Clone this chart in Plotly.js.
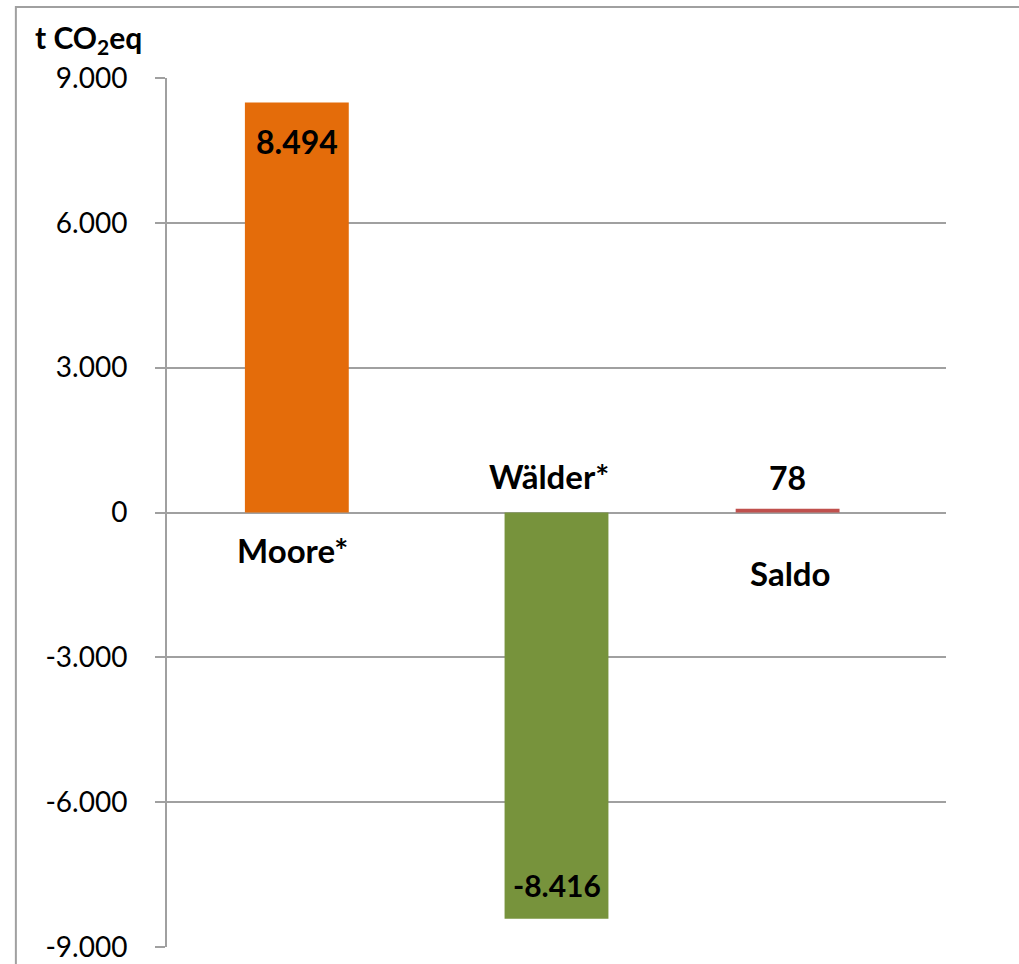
<!DOCTYPE html>
<html>
<head>
<meta charset="utf-8">
<script src="https://cdn.plot.ly/plotly-3.0.1.min.js"></script>
<style>
  html, body { margin: 0; padding: 0; background: #fff; }
  #chart { width: 1019px; height: 964px; }
</style>
</head>
<body>
<div id="chart"></div>
<script>
// ---- data ----
const categories = ["Moore*", "Wälder*", "Saldo"];
const values = [8494, -8416, 78];
const barColors = ["#E46C0A", "#77933C", "#C0504D"];
const tickValues = [-9000, -6000, -3000, 0, 3000, 6000, 9000];
const tickLabels = ["-9.000", "-6.000", "-3.000", "0", "3.000", "6.000", "9.000"];
const yTitle = "t CO<sub>2</sub>eq";

function fmt(v) {
  const s = String(Math.abs(v)).replace(/\B(?=(\d{3})+(?!\d))/g, ".");
  return (v < 0 ? "-" : "") + s;
}

const FONT = "Lato, 'Open Sans', 'DejaVu Sans', sans-serif";

const trace = {
  type: "bar",
  x: categories,
  y: values,
  width: 0.4,
  offset: [-0.2, -0.2, -0.31],
  marker: { color: barColors, line: { width: 0 } },
  hoverinfo: "x+y"
};

// value labels
const valShift = [-39, 34, 31];
const valXShift = [0, 0, -29];
const valSize = [32, 30, 32];
const annotations = values.map((v, i) => ({
  x: categories[i], y: v, xref: "x", yref: "y",
  text: "<b>" + fmt(v) + "</b>",
  showarrow: false,
  xanchor: "center", yanchor: "middle",
  yshift: valShift[i], xshift: valXShift[i],
  font: { family: FONT, size: valSize[i], color: "#000" }
}));

// category label placement (above zero for negative bars, below for positive)
const labelShift = [-37, 37, -60];
const labelXShift = [-4, -8, -26];
categories.forEach((c, i) => annotations.push({
  x: c, y: 0, xref: "x", yref: "y",
  text: "<b>" + c + "</b>",
  showarrow: false,
  xanchor: "center", yanchor: "middle",
  yshift: labelShift[i], xshift: labelXShift[i],
  font: { family: FONT, size: 33, color: "#000" }
}));
annotations.push({
  xref: "paper", yref: "paper", x: -0.172, y: 1.045,
  xanchor: "left", yanchor: "middle",
  text: "<b>" + yTitle + "</b>",
  showarrow: false,
  font: { family: FONT, size: 30, color: "#000" }
});

const layout = {
  width: 1019, height: 964,
  margin: { l: 167, r: 73, t: 78, b: 17, pad: 0 },
  paper_bgcolor: "#fff", plot_bgcolor: "#fff",
  showlegend: false,
  separators: ",.",
  xaxis: {
    type: "category",
    range: [-0.5, 2.5],
    showticklabels: false,
    showgrid: false,
    zeroline: false,
    showline: false,
    ticks: "",
    fixedrange: true
  },
  yaxis: {
    range: [-9000, 9000],
    tickvals: tickValues,
    ticktext: tickLabels,
    showgrid: true,
    gridcolor: "#A0A0A0",
    gridwidth: 2,
    zeroline: true,
    zerolinecolor: "#A0A0A0",
    zerolinewidth: 2,
    showline: true,
    linecolor: "#A0A0A0",
    linewidth: 2,
    ticks: "outside",
    ticklen: 10,
    tickwidth: 2,
    tickcolor: "#A0A0A0",
    ticklabelstandoff: 22,
    tickfont: { family: FONT, size: 28, color: "#000" },
    fixedrange: true
  },
  shapes: [{
    type: "rect", xref: "paper", yref: "paper",
    x0: -0.194, x1: 1.3, y0: -0.2, y1: 1.0817,
    line: { color: "#A0A0A0", width: 2 },
    fillcolor: "rgba(0,0,0,0)",
    layer: "below"
  }],
  annotations: annotations
};

Plotly.newPlot("chart", [trace], layout, { displayModeBar: false, staticPlot: true });
</script>
</body>
</html>
